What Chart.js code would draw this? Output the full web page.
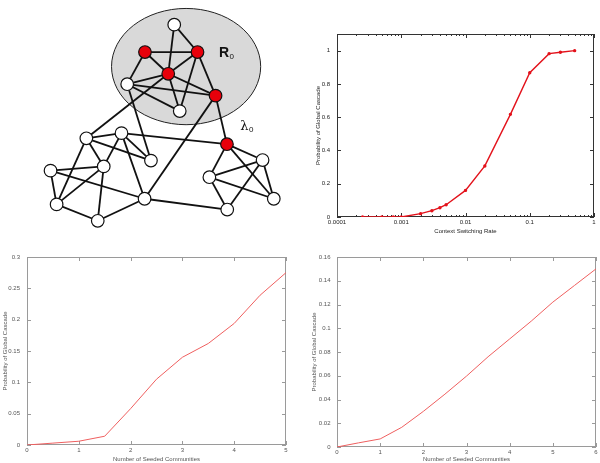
<!DOCTYPE html>
<html>
<head>
<meta charset="utf-8">
<script src="https://cdn.jsdelivr.net/npm/chart.js@4/dist/chart.umd.min.js"></script>
<style>
  body { margin: 0; background: #fff; }
  #wrap { position: relative; width: 600px; height: 463px; }
  canvas { position: absolute; }
</style>
</head>
<body>
<div id="wrap">
  <canvas id="net-Chart" width="300" height="240" style="left:0;top:0"></canvas>
  <canvas id="rate-Chart" width="300" height="240" style="left:300px;top:0"></canvas>
  <canvas id="seedA-Chart" width="300" height="223" style="left:0;top:240px"></canvas>
  <canvas id="seedB-Chart" width="300" height="223" style="left:300px;top:240px"></canvas>
</div>
<script>
// ネットワーク図
const nodeNames = ["A", "B", "C", "D", "E", "F", "G", "H", "I", "J", "K", "L", "M", "N", "O", "P", "Q", "R", "S", "T"];
const nodeX = [175.5, 144.7, 200, 169.2, 126, 219, 181.3, 83, 120, 151, 101.3, 45.3, 51.7, 95, 144.3, 231, 268.5, 212.5, 280.3, 231.3];
const nodeY = [18.3, 47.5, 47.5, 70.7, 81.8, 94, 110.5, 139.5, 134, 163.3, 169.5, 174, 210, 227.5, 204, 145.8, 162.7, 181, 204, 215.5];
const seedNodes = ["B", "C", "D", "F", "P"];
const edges = [
  ["A", "C"], ["A", "D"], ["B", "C"], ["B", "D"], ["B", "E"], ["C", "D"], ["C", "G"], ["C", "F"],
  ["D", "E"], ["D", "F"], ["D", "G"], ["D", "H"], ["E", "F"], ["E", "G"], ["E", "J"], ["F", "O"], ["F", "P"],
  ["H", "I"], ["H", "J"], ["H", "K"], ["H", "M"], ["I", "J"], ["I", "K"], ["I", "O"], ["I", "P"],
  ["L", "K"], ["L", "M"], ["L", "O"], ["K", "M"], ["K", "N"], ["M", "N"], ["N", "O"], ["O", "T"],
  ["P", "Q"], ["P", "R"], ["P", "S"], ["Q", "R"], ["Q", "S"], ["Q", "T"], ["R", "S"], ["R", "T"],
];
// R0 領域 (中心x, 中心y, 半径x, 半径y)
const regionR0 = [188, 63, 78.5, 62];
const netLabels = [
  { text: "R", sub: "0", x: 222.5, y: 52.5, bold: true },
  { text: "λ", sub: "0", x: 245, y: 130.5, bold: false },
];

// Context Switching Rate
const rateX = [0.00025, 0.0005, 0.00075, 0.001, 0.002, 0.003, 0.004, 0.005, 0.01, 0.02, 0.05, 0.1, 0.2, 0.3, 0.5];
const rateY = [0, 0, 0, 0, 0.02, 0.038, 0.056, 0.074, 0.16, 0.307, 0.617, 0.867, 0.982, 0.99, 1.0];
const rateTicksX = [0.0001, 0.001, 0.01, 0.1, 1];
const rateTicksY = [0, 0.2, 0.4, 0.6, 0.8, 1];

// Number of Seeded Communities
const seedX1 = [0, 0.5, 1, 1.5, 2, 2.5, 3, 3.5, 4, 4.5, 5];
const seedY1 = [0, 0.003, 0.006, 0.014, 0.058, 0.105, 0.14, 0.162, 0.194, 0.239, 0.275];
const seedTicksX1 = [0, 1, 2, 3, 4, 5];
const seedTicksY1 = [0, 0.05, 0.1, 0.15, 0.2, 0.25, 0.3];

const seedX2 = [0, 0.5, 1, 1.5, 2, 2.5, 3, 3.5, 4, 4.5, 5, 5.5, 6];
const seedY2 = [0, 0.0035, 0.0068, 0.0166, 0.03, 0.0445, 0.0597, 0.076, 0.091, 0.106, 0.122, 0.136, 0.15];
const seedTicksX2 = [0, 1, 2, 3, 4, 5, 6];
const seedTicksY2 = [0, 0.02, 0.04, 0.06, 0.08, 0.1, 0.12, 0.14, 0.16];

Chart.defaults.font.family = "'Liberation Sans', Arial, sans-serif";
Chart.defaults.animation = false;

// gnuplot 風の枠と内向き目盛り
const gnuBox = {
  id: "gnuBox",
  beforeDatasetsDraw(chart, args, opts) {
    if (!opts.color) return;
    const { ctx, chartArea: { left, right, top, bottom }, scales: { x, y } } = chart;
    ctx.save();
    ctx.strokeStyle = opts.color;
    ctx.lineWidth = 1;
    ctx.strokeRect(left + 0.5, top + 0.5, right - left - 1, bottom - top - 1);
    ctx.beginPath();
    x.ticks.forEach((t) => {
      const px = Math.round(x.getPixelForValue(t.value)) + 0.5;
      const len = t.minor ? 2 : 4;
      ctx.moveTo(px, bottom);
      ctx.lineTo(px, bottom - len);
      ctx.moveTo(px, top);
      ctx.lineTo(px, top + len);
    });
    y.ticks.forEach((t) => {
      const py = Math.round(y.getPixelForValue(t.value)) + 0.5;
      ctx.moveTo(left, py);
      ctx.lineTo(left + 4, py);
      ctx.moveTo(right, py);
      ctx.lineTo(right - 4, py);
    });
    ctx.stroke();
    ctx.restore();
  },
};
Chart.register(gnuBox);

function setTicks(list) {
  return (scale) => {
    scale.ticks = list.map((v) => ({ value: v }));
  };
}

function plotConfig(o) {
  const font = { size: 6 };
  return {
    type: "line",
    data: {
      datasets: [
        {
          data: o.xs.map((v, i) => ({ x: v, y: o.ys[i] })),
          borderColor: o.lineColor,
          backgroundColor: o.lineColor,
          borderWidth: o.lineWidth,
          pointRadius: o.pointRadius,
          tension: 0,
        },
      ],
    },
    options: {
      responsive: false,
      devicePixelRatio: 1,
      layout: { padding: { top: o.padTop, right: o.padRight, left: o.padLeft, bottom: 0 } },
      plugins: {
        legend: { display: false },
        tooltip: { enabled: false },
        gnuBox: { color: o.boxColor },
      },
      scales: {
        x: {
          type: o.xType,
          min: o.xMin,
          max: o.xMax,
          grid: { display: false, drawTicks: false },
          border: { display: false },
          afterBuildTicks: o.xTickFn,
          afterFit: (s) => { s.height = o.xHeight; },
          ticks: {
            autoSkip: false,
            maxRotation: 0,
            padding: o.xTickPad,
            color: o.textColor,
            font,
            callback: (v, i, ticks) => (ticks[i].minor ? "" : String(v)),
          },
          title: {
            display: true,
            text: o.xTitle,
            color: o.textColor,
            font,
            padding: { top: 0, bottom: o.xTitlePad },
          },
        },
        y: {
          min: o.yMin,
          max: o.yMax,
          grid: { display: false, drawTicks: false },
          border: { display: false },
          afterBuildTicks: setTicks(o.yTicks),
          afterFit: (s) => { s.width = o.yWidth; },
          ticks: {
            autoSkip: false,
            padding: o.yTickPad,
            color: o.textColor,
            font,
            callback: (v) => String(v),
          },
          title: {
            display: true,
            text: o.yTitle,
            color: o.textColor,
            font,
            padding: { top: o.yTitlePad, bottom: 0 },
          },
        },
      },
    },
  };
}

document.addEventListener("DOMContentLoaded", () => {
  // ネットワーク
  const netCtx = document.getElementById("net-Chart");
  const idx = (n) => nodeNames.indexOf(n);
  const edgeSets = edges.map(([a, b]) => ({
    data: [
      { x: nodeX[idx(a)], y: nodeY[idx(a)] },
      { x: nodeX[idx(b)], y: nodeY[idx(b)] },
    ],
    showLine: true,
    borderColor: "#111",
    borderWidth: 1.8,
    pointRadius: 0,
  }));
  const nodeSet = {
    data: nodeNames.map((n, i) => ({ x: nodeX[i], y: nodeY[i] })),
    pointRadius: 6.3,
    pointBackgroundColor: nodeNames.map((n) => (seedNodes.includes(n) ? "#e8000b" : "#ffffff")),
    pointBorderColor: "#111",
    pointBorderWidth: 1.2,
  };
  const regionPlugin = {
    id: "region",
    beforeDatasetsDraw(chart) {
      const { ctx, scales: { x, y } } = chart;
      const [cx, cy, rx, ry] = regionR0;
      const px = x.getPixelForValue(cx);
      const py = y.getPixelForValue(cy);
      const prx = Math.abs(x.getPixelForValue(cx + rx) - px);
      const pry = Math.abs(y.getPixelForValue(cy + ry) - py);
      ctx.save();
      ctx.beginPath();
      ctx.ellipse(px, py, prx, pry, 0, 0, Math.PI * 2);
      ctx.fillStyle = "#d9d9d9";
      ctx.fill();
      ctx.strokeStyle = "#222";
      ctx.lineWidth = 1;
      ctx.stroke();
      ctx.restore();
    },
    afterDatasetsDraw(chart) {
      const { ctx, scales: { x, y } } = chart;
      ctx.save();
      ctx.fillStyle = "#111";
      ctx.textBaseline = "alphabetic";
      netLabels.forEach((l) => {
        const px = x.getPixelForValue(l.x);
        const py = y.getPixelForValue(l.y);
        ctx.font = l.bold ? "bold 14px 'Liberation Sans', Arial" : "13px 'DejaVu Serif', serif";
        ctx.fillText(l.text, px, py);
        const w = ctx.measureText(l.text).width;
        ctx.font = "8px 'Liberation Sans', Arial";
        ctx.fillText(l.sub, px + w + 0.5, py + 2);
      });
      ctx.restore();
    },
  };
  new Chart(netCtx, {
    type: "scatter",
    data: { datasets: [nodeSet, ...edgeSets] },
    plugins: [regionPlugin],
    options: {
      responsive: false,
      devicePixelRatio: 1,
      layout: { padding: 0 },
      plugins: { legend: { display: false }, tooltip: { enabled: false } },
      scales: {
        x: { min: 0, max: 300, display: false },
        y: { min: 0, max: 240, reverse: true, display: false },
      },
    },
  });

  // 切替率
  const rateMinor = [];
  rateTicksX.forEach((v, i) => {
    rateMinor.push({ value: v });
    if (i < rateTicksX.length - 1) {
      for (let k = 2; k <= 9; k++) rateMinor.push({ value: v * k, minor: true });
    }
  });
  new Chart(
    document.getElementById("rate-Chart"),
    plotConfig({
      xs: rateX, ys: rateY,
      lineColor: "#e3121b", lineWidth: 1.4, pointRadius: 1,
      boxColor: "#333", textColor: "#222",
      padTop: 34, padRight: 6, padLeft: 0,
      xType: "logarithmic", xMin: 0.0001, xMax: 1,
      xTickFn: (s) => { s.ticks = rateMinor.map((t) => ({ ...t })); },
      xHeight: 23, xTickPad: 2, xTitle: "Context Switching Rate", xTitlePad: 4.7,
      yMin: 0, yMax: 1.1, yTicks: rateTicksY,
      yWidth: 37, yTickPad: 7, yTitle: "Probability of Global Cascade", yTitlePad: 14.7,
    })
  );

  // シード数 (左)
  new Chart(
    document.getElementById("seedA-Chart"),
    plotConfig({
      xs: seedX1, ys: seedY1,
      lineColor: "#ef5f5f", lineWidth: 1, pointRadius: 0,
      boxColor: "#9a9a9a", textColor: "#555",
      padTop: 17, padRight: 14, padLeft: 0,
      xType: "linear", xMin: 0, xMax: 5,
      xTickFn: setTicks(seedTicksX1),
      xHeight: 18, xTickPad: 2, xTitle: "Number of Seeded Communities", xTitlePad: 0,
      yMin: 0, yMax: 0.3, yTicks: seedTicksY1,
      yWidth: 27, yTickPad: 7, yTitle: "Probability of Global Cascade", yTitlePad: 1.4,
    })
  );

  // シード数 (右)
  new Chart(
    document.getElementById("seedB-Chart"),
    plotConfig({
      xs: seedX2, ys: seedY2,
      lineColor: "#ef5f5f", lineWidth: 1, pointRadius: 0,
      boxColor: "#9a9a9a", textColor: "#555",
      padTop: 17, padRight: 4, padLeft: 0,
      xType: "linear", xMin: 0, xMax: 6,
      xTickFn: setTicks(seedTicksX2),
      xHeight: 16, xTickPad: 2, xTitle: "Number of Seeded Communities", xTitlePad: 0,
      yMin: 0, yMax: 0.16, yTicks: seedTicksY2,
      yWidth: 37, yTickPad: 6.5, yTitle: "Probability of Global Cascade", yTitlePad: 10.4,
    })
  );
});
</script>
</body>
</html>
